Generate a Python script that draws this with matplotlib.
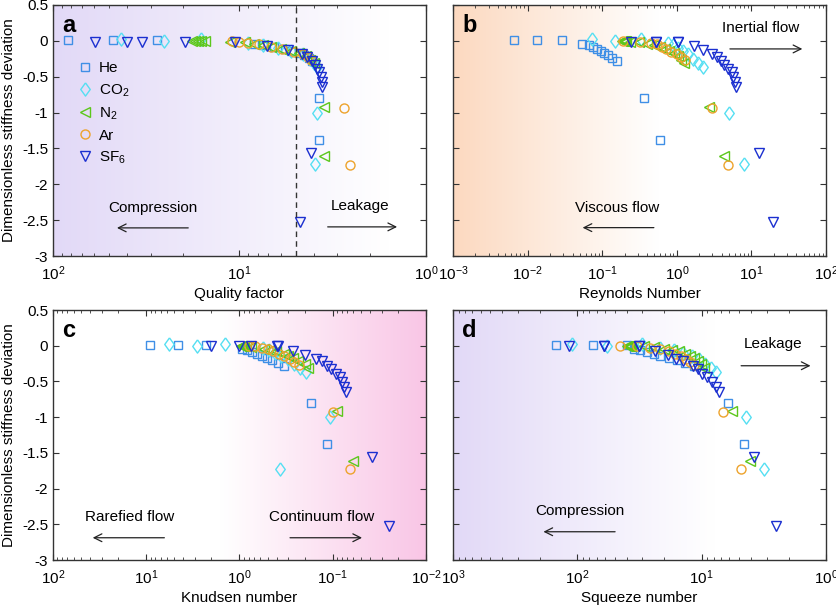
import numpy as np
import matplotlib
matplotlib.use("Agg")
import matplotlib.pyplot as plt
from matplotlib.colors import to_rgb

plt.rcParams['font.family'] = ['Liberation Sans', 'DejaVu Sans']
plt.rcParams['mathtext.default'] = 'regular'
plt.rcParams['font.size'] = 11

# ---------------- data ----------------
he_y = [0.01, 0.01, 0.01, -0.04, -0.06, -0.09, -0.12, -0.14, -0.17, -0.20, -0.24, -0.28, -0.80, -1.38]
he_q = [83, 47.7, 27.6, 8.4, 7.5, 6.5, 5.7, 5.3, 4.8, 4.5, 4.25, 4.1, 3.73, 3.73]
he_re = [0.0066, 0.0134, 0.0286, 0.053, 0.067, 0.075, 0.084, 0.095, 0.107, 0.121, 0.137, 0.156, 0.363, 0.596]
he_kn = [9.19, 4.57, 2.29, 0.94, 0.83, 0.73, 0.65, 0.57, 0.51, 0.45, 0.386, 0.336, 0.170, 0.115]
he_sq = [147.6, 75.4, 39.9, 35.2, 31.1, 27.5, 24.3, 21.5, 18.4, 15.8, 13.5, 11.6, 6.14, 4.59]

co2_y = [0.02, 0.0, 0.02, -0.03, -0.06, -0.10, -0.14, -0.19, -0.25, -0.31, -0.37, -1.0, -1.72]
co2_q = [43.2, 25.4, 16.0, 9.0, 7.5, 6.2, 5.3, 4.55, 4.2, 4.0, 3.86, 3.83, 3.94]
co2_re = [0.0723, 0.1486, 0.328, 0.762, 0.889, 1.037, 1.21, 1.41, 1.65, 1.92, 2.24, 5.01, 8.04]
co2_kn = [5.75, 2.86, 1.42, 0.564, 0.484, 0.415, 0.355, 0.305, 0.261, 0.224, 0.192, 0.106, 0.365]
co2_sq = [110.3, 57.7, 30.2, 21.5, 16.8, 14.0, 12.0, 10.6, 9.35, 8.37, 7.67, 4.40, 3.17]

n2_y = [0.0, 0.0, 0.0, 0.0, 0.0, -0.01, -0.02, -0.04, -0.06, -0.08, -0.11, -0.14, -0.17, -0.21, -0.26, -0.31, -0.92, -1.61]
n2_q = [18.0, 17.3, 16.6, 16.0, 15.3, 11.2, 9.3, 8.4, 7.5, 6.8, 6.0, 5.3, 4.8, 4.4, 4.2, 4.0, 3.52, 3.52]
n2_re = [0.184, 0.19, 0.196, 0.2, 0.206, 0.238, 0.308, 0.398, 0.490, 0.589, 0.687, 0.794, 0.908, 1.03, 1.15, 1.26, 2.67, 4.25]
n2_kn = [0.97, 0.95, 0.93, 0.91, 0.89, 0.85, 0.75, 0.55, 0.47, 0.41, 0.335, 0.30, 0.27, 0.235, 0.20, 0.183, 0.090, 0.060]
n2_sq = [40, 39, 38.6, 38, 37, 29.2, 24.3, 20.2, 17.3, 15.3, 13.5, 12.3, 11.5, 10.7, 10.1, 9.64, 5.70, 4.11]

ar_y = [0.0, -0.01, -0.03, -0.05, -0.08, -0.11, -0.15, -0.19, -0.23, -0.27, -0.93, -1.73]
ar_q = [11.0, 10.0, 9.0, 7.9, 6.8, 5.9, 5.1, 4.55, 4.3, 4.12, 2.74, 2.55]
ar_re = [0.19, 0.32, 0.45, 0.55, 0.63, 0.72, 0.84, 1.0, 1.15, 1.30, 2.97, 4.85]
ar_kn = [0.80, 0.68, 0.58, 0.50, 0.44, 0.38, 0.33, 0.29, 0.26, 0.23, 0.100, 0.066]
ar_sq = [45.7, 33.1, 25.9, 21.5, 18.4, 16.3, 14.7, 13.3, 12.3, 11.5, 6.78, 4.83]

sf6_y = [-0.01, -0.01, -0.01, -0.01, -0.01, -0.07, -0.13, -0.18, -0.22, -0.28, -0.33, -0.39, -0.44, -0.51, -0.58, -0.65, -1.56, -2.52]
sf6_q = [59.6, 40.3, 33.5, 19.5, 10.6, 7.15, 5.47, 4.65, 4.35, 4.10, 3.95, 3.82, 3.75, 3.67, 3.62, 3.60, 4.14, 4.74]
sf6_re = [0.243, 0.52, 0.53, 1.04, 1.05, 1.70, 2.27, 2.94, 3.43, 3.88, 4.34, 4.90, 5.44, 5.72, 6.03, 6.22, 12.8, 19.3]
sf6_kn = [2.0, 1.02, 0.75, 0.40, 0.39, 0.265, 0.198, 0.153, 0.131, 0.116, 0.104, 0.092, 0.083, 0.079, 0.075, 0.072, 0.0379, 0.0251]
sf6_sq = [117.5, 61.4, 61.0, 32.1, 31.8, 23.6, 18.8, 16.0, 14.0, 11.7, 10.8, 9.89, 9.06, 8.20, 7.67, 7.26, 3.82, 2.52]

gas_labels = ['He', 'CO$_2$', 'N$_2$', 'Ar', 'SF$_6$']
y_ticks = [0.5, 0, -0.5, -1, -1.5, -2, -2.5, -3]
y_tick_labels = ['0.5', '0', '-0.5', '-1', '-1.5', '-2', '-2.5', '-3']
q_threshold = 5.0

# ---------------- styles ----------------
diamond = [(0, 1), (0.72, 0), (0, -1), (-0.72, 0), (0, 1)]
styles = [
    dict(marker='s', color='#3f8fe6', ms=5.5),
    dict(marker=diamond, color='#55dff2', ms=9.5),
    dict(marker='<', color='#5cc71c', ms=7.5),
    dict(marker='o', color='#eda32c', ms=6.5),
    dict(marker='v', color='#1b2fd0', ms=7.5),
]
ys = [he_y, co2_y, n2_y, ar_y, sf6_y]
xs_a = [he_q, co2_q, n2_q, ar_q, sf6_q]
xs_b = [he_re, co2_re, n2_re, ar_re, sf6_re]
xs_c = [he_kn, co2_kn, n2_kn, ar_kn, sf6_kn]
xs_d = [he_sq, co2_sq, n2_sq, ar_sq, sf6_sq]

W, H = 837, 607
fig = plt.figure(figsize=(W / 100, H / 100), dpi=100)


def rect(l, r, t, b):
    return [l / W, 1 - b / H, (r - l) / W, (b - t) / H]


def gradient(pos, color, a0, a1, x0, x1):
    bg = fig.add_axes(pos, zorder=0)
    bg.set_axis_off()
    xx = np.linspace(0, 1, 400)
    t = np.clip((xx - x0) / (x1 - x0), 0, 1)
    alpha = a0 + (a1 - a0) * t
    rgb = np.array(to_rgb(color))
    img = np.ones((1, 400, 3)) * (1 - alpha[None, :, None]) + rgb[None, None, :] * alpha[None, :, None]
    bg.imshow(img, aspect='auto', extent=(0, 1, 0, 1), interpolation='bilinear')
    bg.set_xlim(0, 1)
    bg.set_ylim(0, 1)


def make_axes(pos, xs, xlim, xlabel, ylabel, letter):
    ax = fig.add_axes(pos, zorder=1)
    ax.patch.set_alpha(0)
    for x, y, st, lab in zip(xs, ys, styles, gas_labels):
        ax.plot(x, y, linestyle='none', marker=st['marker'], markersize=st['ms'],
                markerfacecolor='none', markeredgecolor=st['color'], markeredgewidth=1.0,
                label=lab)
    ax.set_xscale('log')
    ax.set_xlim(*xlim)
    ax.set_ylim(-3, 0.5)
    ax.set_yticks(y_ticks)
    if ylabel:
        ax.set_yticklabels(y_tick_labels)
        ax.set_ylabel('Dimensionless stiffness deviation', fontsize=11, labelpad=4)
    else:
        ax.set_yticklabels([])
    ax.set_xlabel(xlabel, fontsize=11, labelpad=3)
    ax.tick_params(which='both', direction='in', top=True, right=True, labelsize=11, color='#333333')
    ax.tick_params(axis='x', which='major', pad=6)
    ax.tick_params(which='major', length=4, width=0.8)
    ax.tick_params(which='minor', length=2, width=0.6)
    for s in ax.spines.values():
        s.set_linewidth(1.0)
        s.set_color('#333333')
    ax.text(0.025, 0.965, letter, transform=ax.transAxes, fontsize=17, fontweight='bold',
            va='top', ha='left')
    return ax


def arrow(ax, x0, x1, y):
    ax.annotate('', xy=(x1, y), xytext=(x0, y), xycoords='axes fraction',
                arrowprops=dict(arrowstyle='->', color='#222222', lw=0.9,
                                mutation_scale=14))


pos_a = rect(53, 426, 5, 256)
pos_b = rect(453, 826, 5, 256)
pos_c = rect(53, 426, 310, 560)
pos_d = rect(453, 826, 310, 560)

gradient(pos_a, '#e2d9f7', 1.0, 0.0, 0.0, 0.9)
gradient(pos_b, '#fcd9c0', 1.0, 0.0, 0.0, 0.55)
gradient(pos_c, '#f9c6e6', 0.0, 1.0, 0.45, 1.0)
gradient(pos_d, '#e2d9f7', 1.0, 0.0, 0.0, 0.7)

ax_a = make_axes(pos_a, xs_a, (100, 1), 'Quality factor', True, 'a')
ax_b = make_axes(pos_b, xs_b, (1e-3, 1e2), 'Reynolds Number', False, 'b')
ax_c = make_axes(pos_c, xs_c, (100, 0.01), 'Knudsen number', True, 'c')
ax_d = make_axes(pos_d, xs_d, (1000, 1), 'Squeeze number', False, 'd')

# panel a extras
ax_a.axvline(q_threshold, color='#333333', linestyle=(0, (4, 3)), lw=1.0)
ax_a.legend(loc='upper left', bbox_to_anchor=(0.05, 0.80), frameon=False, fontsize=11,
            handlelength=0.9, handletextpad=0.5, labelspacing=0.45, borderaxespad=0)
ax_a.text(0.269, 0.191, 'Compression', transform=ax_a.transAxes, ha='center', va='center', fontsize=11)
arrow(ax_a, 0.370, 0.164, 0.112)
ax_a.text(0.823, 0.199, 'Leakage', transform=ax_a.transAxes, ha='center', va='center', fontsize=11)
arrow(ax_a, 0.729, 0.930, 0.116)

# panel b extras
ax_b.text(0.826, 0.908, 'Inertial flow', transform=ax_b.transAxes, ha='center', va='center', fontsize=11)
arrow(ax_b, 0.735, 0.944, 0.825)
ax_b.text(0.440, 0.191, 'Viscous flow', transform=ax_b.transAxes, ha='center', va='center', fontsize=11)
arrow(ax_b, 0.546, 0.340, 0.113)

# panel c extras
ax_c.text(0.206, 0.172, 'Rarefied flow', transform=ax_c.transAxes, ha='center', va='center', fontsize=11)
arrow(ax_c, 0.306, 0.099, 0.089)
ax_c.text(0.719, 0.172, 'Continuum flow', transform=ax_c.transAxes, ha='center', va='center', fontsize=11)
arrow(ax_c, 0.628, 0.836, 0.089)

# panel d extras
ax_d.text(0.858, 0.864, 'Leakage', transform=ax_d.transAxes, ha='center', va='center', fontsize=11)
arrow(ax_d, 0.765, 0.966, 0.777)
ax_d.text(0.341, 0.196, 'Compression', transform=ax_d.transAxes, ha='center', va='center', fontsize=11)
arrow(ax_d, 0.442, 0.235, 0.113)

fig.savefig('out.png', dpi=100)
